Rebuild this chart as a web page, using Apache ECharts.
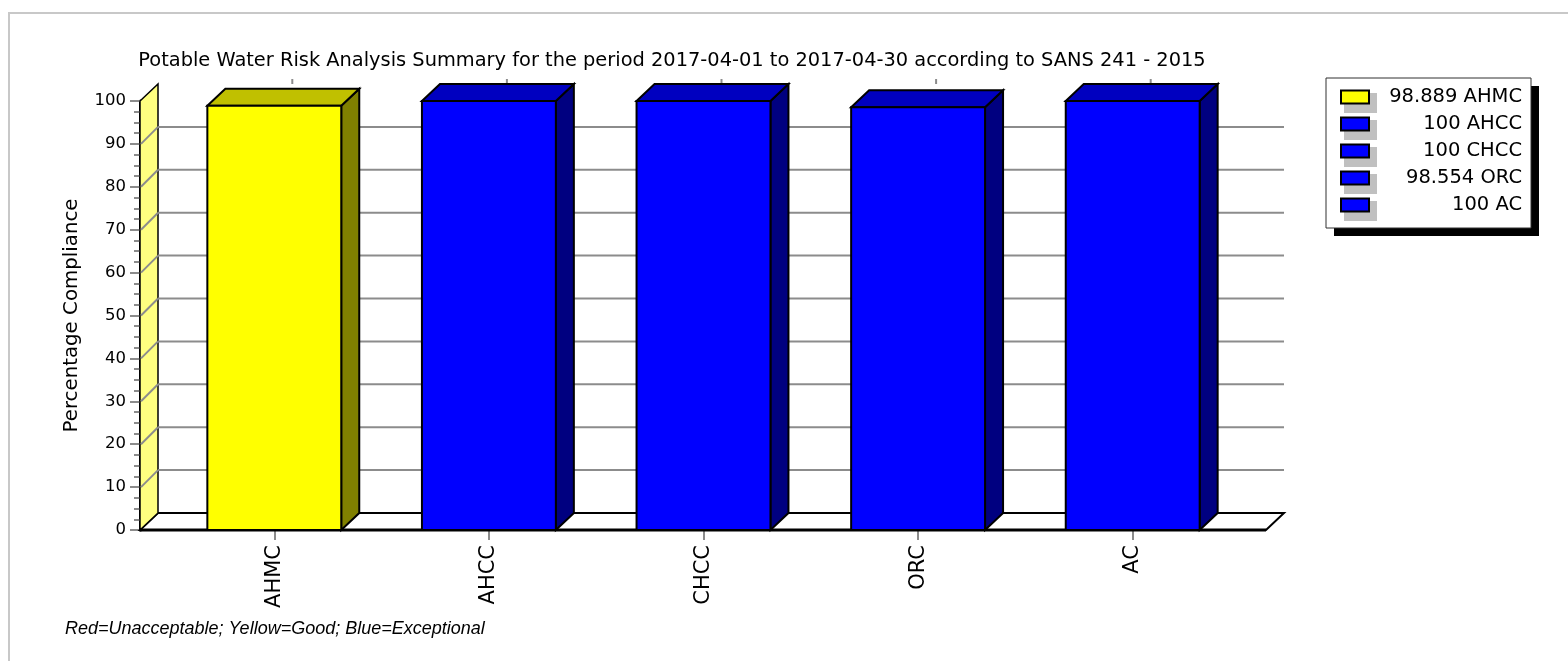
<!DOCTYPE html>
<html>
<head>
<meta http-equiv="content-type" content="text/html; charset=utf-8"/>
<title>Potable Water Risk Analysis Summary</title>
<script src="https://cdn.jsdelivr.net/npm/echarts@6/dist/echarts.min.js"></script>
<style type="text/css">
    html, body { margin: 0; padding: 0; background: #fff; }
    #chart { width: 1568px; height: 661px; }
</style>
</head>
<body>
<div id="chart"></div>
<script>
    // data
    var sites = ['AHMC', 'AHCC', 'CHCC', 'ORC', 'AC'];
    var compliance = [98.889, 100, 100, 98.554, 100];
    var ratings = ['Good', 'Exceptional', 'Exceptional', 'Exceptional', 'Exceptional'];
    var yTicks = [0, 10, 20, 30, 40, 50, 60, 70, 80, 90, 100];

    var titleText = 'Potable Water Risk Analysis Summary for the period 2017-04-01 to 2017-04-30 according to SANS 241 - 2015';
    var footText = 'Red=Unacceptable; Yellow=Good; Blue=Exceptional';

    // colours per rating: front face, top face, side face
    var shades = {
        Unacceptable: { front: '#ff0000', top: '#c00000', side: '#800000' },
        Good:         { front: '#ffff00', top: '#c0c000', side: '#808000' },
        Exceptional:  { front: '#0000ff', top: '#0000c0', side: '#000080' }
    };

    var DX = 18, DY = -17;     // depth of the fake 3d
    var PAD = 27;              // floor overhang beyond the first/last band
    var BAR = 0.624;           // bar width as part of a band
    var FONT = 'DejaVu Sans';

    // legend box
    var LEG_X = 1326, LEG_Y = 78, LEG_W = 205, LEG_H = 150, ROW = 27;

    var chart = echarts.init(document.getElementById('chart'));

    // floor and left wall
    function renderFrame(params, api) {
        var band = api.size([1, 0])[0];
        var x0 = api.coord([0, 0])[0] - band / 2 - PAD;
        var x1 = api.coord([sites.length - 1, 0])[0] + band / 2 - 1 + PAD;
        var y0 = api.coord([0, 0])[1];
        var yTop = api.coord([0, 100])[1];
        return {
            type: 'group',
            children: [
                { type: 'polygon', shape: { points: [[x0, y0], [x1, y0], [x1 + DX, y0 + DY], [x0 + DX, y0 + DY]] },
                  style: { fill: '#fff', stroke: '#000', lineWidth: 2 } },
                { type: 'polygon', shape: { points: [[x0, y0], [x0, yTop], [x0 + DX, yTop + DY], [x0 + DX, y0 + DY]] },
                  style: { fill: '#ffff80', stroke: '#000', lineWidth: 1.5 } },
                { type: 'line', shape: { x1: x0, y1: y0, x2: x1, y2: y0 },
                  style: { stroke: '#000', lineWidth: 3 } }
            ]
        };
    }

    // gridlines on the back wall and their slants on the left wall
    function renderGrid(params, api) {
        var v = api.value(1);
        var band = api.size([1, 0])[0];
        var x0 = api.coord([0, 0])[0] - band / 2 - PAD;
        var x1 = api.coord([sites.length - 1, 0])[0] + band / 2 - 1 + PAD;
        var y = api.coord([0, v])[1];
        var children = [];
        if (v > 0 && v < 100) {
            children.push({ type: 'line', shape: { x1: x0 + DX, y1: y + DY, x2: x1 + DX, y2: y + DY },
                            style: { stroke: '#8c8c8c', lineWidth: 2 } });
            children.push({ type: 'line', shape: { x1: x0 + 1, y1: y, x2: x0 + DX, y2: y + DY },
                            style: { stroke: '#8c8c8c', lineWidth: 2 } });
        }
        if (v === 100) {
            for (var i = 0; i < sites.length; i++) {
                var cx = api.coord([i, 0])[0] + DX;
                children.push({ type: 'line', shape: { x1: cx, y1: y + DY, x2: cx, y2: y + DY - 5 },
                                style: { stroke: '#8c8c8c', lineWidth: 2 } });
            }
        }
        return { type: 'group', children: children };
    }

    // one box per site
    function renderBar(params, api) {
        var i = api.value(0);
        var top = api.coord([i, api.value(1)]);
        var base = api.coord([i, 0]);
        var w = api.size([1, 0])[0] * BAR;
        var xa = top[0] - w / 2, xb = top[0] + w / 2;
        var yt = top[1], yb = base[1];
        var c = shades[ratings[i]];
        var line = { stroke: '#000', lineWidth: 2, lineJoin: 'miter' };
        return {
            type: 'group',
            children: [
                { type: 'polygon', shape: { points: [[xb, yb], [xb + DX, yb + DY], [xb + DX, yt + DY], [xb, yt]] },
                  style: echarts.util.extend({ fill: c.side }, line) },
                { type: 'polygon', shape: { points: [[xa, yt], [xa + DX, yt + DY], [xb + DX, yt + DY], [xb, yt]] },
                  style: echarts.util.extend({ fill: c.top }, line) },
                { type: 'rect', shape: { x: xa, y: yt, width: w, height: yb - yt },
                  style: echarts.util.extend({ fill: c.front }, line) }
            ]
        };
    }

    var series = [
        { type: 'custom', name: 'frame', z: 1, silent: true, data: [[0, 0]], renderItem: renderFrame },
        { type: 'custom', name: 'grid', z: 2, silent: true,
          data: yTicks.map(function (v) { return [0, v]; }), renderItem: renderGrid }
    ];
    for (var i = 0; i < sites.length; i++) {
        series.push({
            type: 'custom',
            name: sites[i],
            z: 3,
            itemStyle: { color: shades[ratings[i]].front },
            data: [[i, compliance[i]]],
            renderItem: renderBar
        });
    }

    // legend frame and swatch shadows
    var graphics = [
        { type: 'polyline', silent: true, z: 0,
          shape: { points: [[9, 661], [9, 13], [1568, 13]] },
          style: { stroke: '#c8c8c8', lineWidth: 2, fill: null } },
        { type: 'text', left: 65, top: 620, silent: true,
          style: { text: footText, fill: '#000', font: 'italic 18px "Liberation Sans", Arial, sans-serif' } },
        { type: 'rect', silent: true, z: 0,
          shape: { x: LEG_X + 8, y: LEG_Y + 8, width: LEG_W, height: LEG_H },
          style: { fill: '#000' } },
        { type: 'rect', silent: true, z: 0,
          shape: { x: LEG_X, y: LEG_Y, width: LEG_W, height: LEG_H },
          style: { fill: '#fff', stroke: '#303030', lineWidth: 1 } }
    ];
    sites.forEach(function (s, k) {
        graphics.push({ type: 'rect', silent: true, z: 0,
            shape: { x: LEG_X + 18, y: LEG_Y + 15 + ROW * k, width: 33, height: 20 },
            style: { fill: '#c0c0c0' } });
    });

    var option = {
        animation: false,
        backgroundColor: '#fff',
        title: {
            text: titleText,
            left: 672,
            top: 51,
            padding: 0,
            textAlign: 'center',
            textStyle: { fontFamily: FONT, fontSize: 19.4, fontWeight: 'normal', color: '#000' }
        },
        legend: {
            orient: 'vertical',
            left: LEG_X,
            top: LEG_Y,
            padding: [9, 10, 12, 14],
            itemWidth: 28,
            itemHeight: 13,
            itemGap: ROW - 20,
            itemTextGap: 5,
            icon: 'rect',
            selectedMode: false,
            itemStyle: { borderColor: '#000', borderWidth: 2 },
            data: sites,
            formatter: function (name) {
                return '{v|' + compliance[sites.indexOf(name)] + ' ' + name + '}';
            },
            textStyle: {
                fontFamily: FONT, fontSize: 19.5, lineHeight: 20, color: '#000',
                rich: { v: { width: 148, align: 'right', fontFamily: FONT, fontSize: 19.5, lineHeight: 20, color: '#000' } }
            }
        },
        grid: { left: 167, right: 328, top: 101, bottom: 131 },
        xAxis: {
            type: 'category',
            data: sites,
            axisLine: { show: false },
            axisTick: { show: true, alignWithLabel: true, length: 10, lineStyle: { color: '#8c8c8c', width: 2 } },
            axisLabel: { interval: 0, rotate: 90, margin: 15, fontFamily: FONT, fontSize: 21, color: '#000' },
            splitLine: { show: false }
        },
        yAxis: {
            type: 'value',
            min: 0,
            max: 100,
            interval: 10,
            offset: PAD,
            name: 'Percentage Compliance',
            nameLocation: 'middle',
            nameRotate: 90,
            nameGap: 58,
            nameTextStyle: { fontFamily: FONT, fontSize: 19.8, color: '#000' },
            axisLine: { show: true, lineStyle: { color: '#000', width: 3 } },
            axisTick: { show: true, length: 10, lineStyle: { color: '#8c8c8c', width: 2 } },
            minorTick: { show: true, splitNumber: 4, length: 6, lineStyle: { color: '#8c8c8c', width: 2 } },
            axisLabel: { margin: 14, fontFamily: FONT, fontSize: 16.5, color: '#000' },
            splitLine: { show: false }
        },
        graphic: graphics,
        series: series
    };

    chart.setOption(option);
</script>
</body>
</html>
